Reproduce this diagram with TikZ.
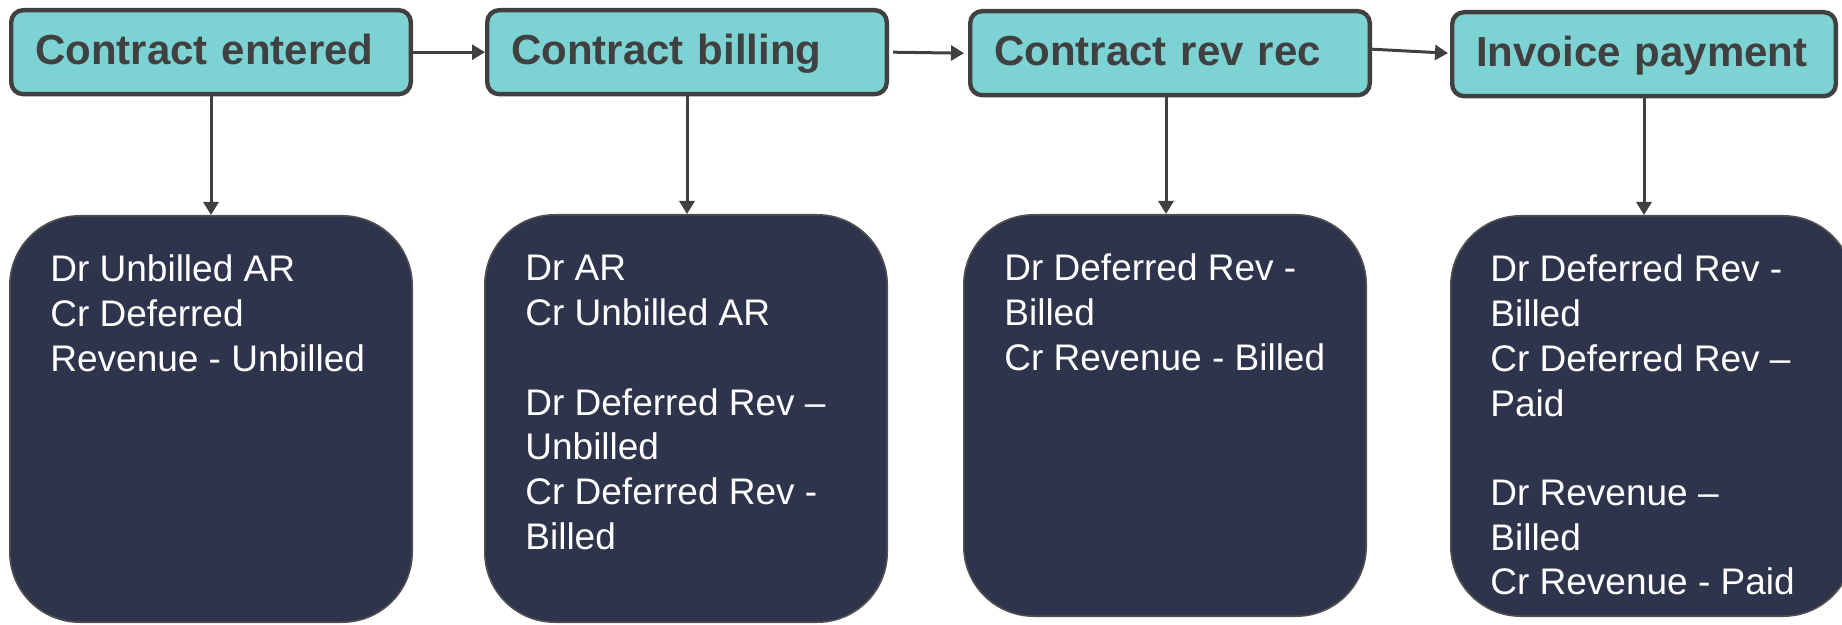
\documentclass[tikz,border=0pt]{standalone}
\usepackage{fontspec}
\setmainfont{Liberation Sans}
\usetikzlibrary{arrows.meta}
\definecolor{stagefill}{RGB}{125,211,211}
\definecolor{entryfill}{RGB}{47,52,77}
\definecolor{inkgray}{RGB}{64,64,64}
\definecolor{edgegray}{RGB}{80,80,80}
\begin{document}
\begin{tikzpicture}[x=0.5pt,y=-0.5pt,
  stage/.style={draw=inkgray, line width=2.2pt, fill=stagefill, rounded corners=6pt,
    anchor=north west, minimum height=42pt, inner xsep=12pt, inner ysep=0pt,
    text width=175.8pt, align=left, text=inkgray,
    font=\fontsize{21}{25}\selectfont\bfseries, text height=16pt, text depth=4pt},
  ledger/.style={draw=edgegray, line width=0.8pt, fill=entryfill, rounded corners=35pt,
    anchor=north west, minimum width=201.2pt, inner sep=0pt},
  entrytext/.style={anchor=base west, inner sep=0pt, text=white,
    font=\fontsize{18.5}{22.35}\selectfont},
  flow/.style={draw=inkgray, line width=1.5pt, -{Triangle[length=6.5pt,width=7.5pt]}}
]
\useasboundingbox (0,0) rectangle (1842,625);
\clip (0,0) rectangle (1842,625);

% process stages
\node[stage] (t1) at (9,8) {Contract entered};
\node[stage] (t2) at (485,8) {Contract billing};
\node[stage] (t3) at (968,9) {Contract rev rec};
\node[stage, text width=167.8pt] (t4) at (1450,10) {Invoice payment};

% journal entry panels
\node[ledger, minimum height=203.2pt] (b1) at (9,215) {};
\node[ledger, minimum height=203.7pt] (b2) at (484,214) {};
\node[ledger, minimum height=200.7pt] (b3) at (963,214) {};
\node[ledger, minimum height=200.2pt] (b4) at (1450,215) {};

% journal entries
\node[entrytext] (e1) at ([shift={(41,67)}]b1.north west)
  {\parbox[t]{190pt}{\raggedright Dr Unbilled AR\\Cr Deferred\\Revenue - Unbilled}};
\node[entrytext] (e2) at ([shift={(41,67)}]b2.north west)
  {\parbox[t]{190pt}{\raggedright Dr AR\\Cr Unbilled AR\\[22.35pt]Dr Deferred Rev –\\Unbilled\\Cr Deferred Rev -\\Billed}};
\node[entrytext] (e3) at ([shift={(41,67)}]b3.north west)
  {\parbox[t]{190pt}{\raggedright Dr Deferred Rev -\\Billed\\Cr Revenue - Billed}};
\node[entrytext] (e4) at ([shift={(40,67)}]b4.north west)
  {\parbox[t]{190pt}{\raggedright Dr Deferred Rev -\\Billed\\Cr Deferred Rev –\\Paid\\[22.35pt]Dr Revenue –\\Billed\\Cr Revenue - Paid}};

% flow between stages
\draw[flow] (t1.east) -- (t2.west);
\draw[flow] ([xshift=2pt]t2.east) -- ([xshift=-2pt]t3.west);
\draw[flow] ([yshift=2pt]t3.east) -- ([yshift=0.5pt,xshift=-1pt]t4.west);

% each stage posts its entries
\draw[flow] (t1.south) -- (t1.south |- b1.north);
\draw[flow] (t2.south) -- (t2.south |- b2.north);
\draw[flow] ([xshift=-2pt]t3.south) -- ([xshift=-2pt]t3.south |- b3.north);
\draw[flow] (t4.south) -- (t4.south |- b4.north);
\end{tikzpicture}
\end{document}
